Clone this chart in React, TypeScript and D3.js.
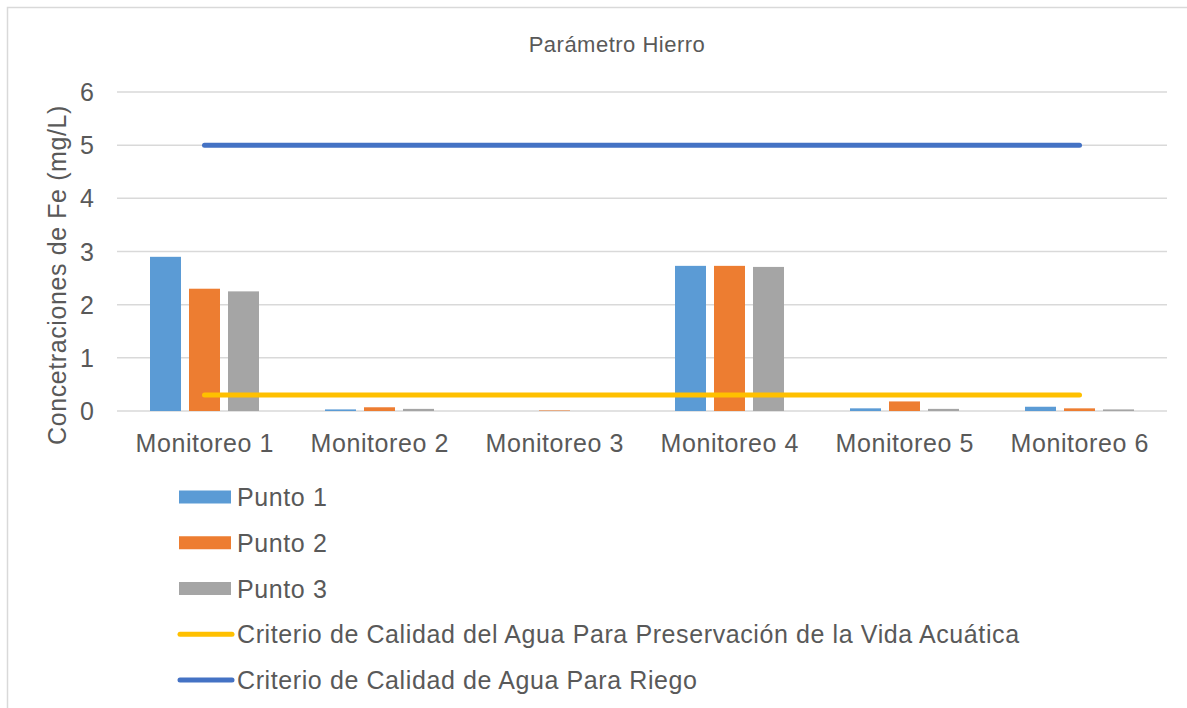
import React, { useEffect, useRef } from "react";
import * as d3 from "d3";

const categories = ["Monitoreo 1", "Monitoreo 2", "Monitoreo 3", "Monitoreo 4", "Monitoreo 5", "Monitoreo 6"];
const seriesNames = ["Punto 1", "Punto 2", "Punto 3"];
const punto1 = [2.9, 0.03, 0, 2.73, 0.05, 0.08];
const punto2 = [2.3, 0.07, 0.01, 2.73, 0.18, 0.05];
const punto3 = [2.25, 0.04, 0, 2.71, 0.04, 0.03];
const vidaAcuatica = [0.3, 0.3, 0.3, 0.3, 0.3, 0.3];
const riego = [5, 5, 5, 5, 5, 5];
const yTicks = [0, 1, 2, 3, 4, 5, 6];

const barColors = ["#5B9BD5", "#ED7D31", "#A5A5A5"];
const lineNames = [
  "Criterio de Calidad del Agua Para Preservación de la Vida Acuática",
  "Criterio de Calidad de Agua Para Riego",
];
const lineColors = ["#FFC000", "#4472C4"];

const W = 1187;
const H = 708;
const font = "'Liberation Sans', Arial, sans-serif";
const textColor = "#595959";

export default function App() {
  const ref = useRef<SVGSVGElement>(null);

  useEffect(() => {
    const svg = d3.select(ref.current);
    svg.selectAll("*").remove();

    // label with baseline at (x, y)
    const label = (g: any, x: number, y: number, txt: string, size: number, anchor = "start", ls = 0.6) =>
      g.append("text")
        .attr("x", x).attr("y", y)
        .attr("text-anchor", anchor)
        .attr("font-family", font).attr("font-size", size)
        .attr("letter-spacing", ls)
        .attr("fill", textColor)
        .text(txt);

    // frame
    svg.append("rect")
      .attr("x", 7.5).attr("y", 7.5)
      .attr("width", W).attr("height", H)
      .attr("fill", "#fff").attr("stroke", "#D9D9D9").attr("stroke-width", 1.5);

    const left = 117, right = 1167, top = 92, bottom = 411;

    const y = d3.scaleLinear().domain([0, 6]).range([bottom, top]);
    const x0 = d3.scaleBand().domain(categories).range([left, right]).padding(0);
    const groupW = 109;
    const x1 = d3.scaleBand().domain(seriesNames).range([0, groupW]).paddingInner(8 / 39).paddingOuter(0);
    const offset = (x0.bandwidth() - groupW) / 2;

    // title
    label(svg, 617, 52, "Parámetro Hierro", 22, "middle", 0.5);

    // gridlines
    svg.append("g").selectAll("line").data(yTicks).join("line")
      .attr("x1", left).attr("x2", right)
      .attr("y1", (d) => y(d)).attr("y2", (d) => y(d))
      .attr("stroke", "#D9D9D9").attr("stroke-width", 1.5);

    // y tick labels
    const yt = svg.append("g");
    yTicks.forEach((d) => label(yt, 94, y(d) + 9, String(d), 25, "end", 0));

    // x labels
    const xl = svg.append("g");
    categories.forEach((c) => label(xl, x0(c)! + x0.bandwidth() / 2 + 0.3, 452, c, 25, "middle"));

    // y title
    svg.append("text")
      .attr("transform", "translate(66,275) rotate(-90)")
      .attr("text-anchor", "middle")
      .attr("font-family", font).attr("font-size", 25)
      .attr("letter-spacing", 0.6)
      .attr("fill", textColor)
      .text("Concetraciones de Fe (mg/L)");

    // bars
    const allSeries = [punto1, punto2, punto3];
    allSeries.forEach((vals, si) => {
      svg.append("g").selectAll("rect").data(vals).join("rect")
        .attr("x", (_, i) => x0(categories[i])! + offset + x1(seriesNames[si])!)
        .attr("width", x1.bandwidth())
        .attr("y", (d) => y(d))
        .attr("height", (d) => bottom - y(d))
        .attr("fill", barColors[si]);
    });

    // criterion lines
    const line = d3.line<number>()
      .x((_, i) => x0(categories[i])! + x0.bandwidth() / 2)
      .y((d) => y(d));
    [vidaAcuatica, riego].forEach((vals, li) => {
      svg.append("path")
        .attr("d", line(vals))
        .attr("fill", "none")
        .attr("stroke", lineColors[li])
        .attr("stroke-width", 5)
        .attr("stroke-linecap", "round");
    });

    // legend
    const lg = svg.append("g");
    const rowY = (i: number) => 497 + i * 45.75;
    seriesNames.forEach((name, i) => {
      lg.append("rect")
        .attr("x", 179).attr("y", rowY(i) - 6.5)
        .attr("width", 52).attr("height", 13)
        .attr("fill", barColors[i]);
      label(lg, 237, rowY(i) + 9, name, 25);
    });
    lineNames.forEach((name, j) => {
      const i = j + 3;
      lg.append("line")
        .attr("x1", 180).attr("x2", 232)
        .attr("y1", rowY(i)).attr("y2", rowY(i))
        .attr("stroke", lineColors[j]).attr("stroke-width", 5)
        .attr("stroke-linecap", "round");
      label(lg, 237, rowY(i) + 9, name, 25);
    });
  }, []);

  return (
    <div style={{ position: "absolute", left: 0, top: 0 }}>
      <svg ref={ref} width={W} height={H} style={{ display: "block" }} />
    </div>
  );
}
